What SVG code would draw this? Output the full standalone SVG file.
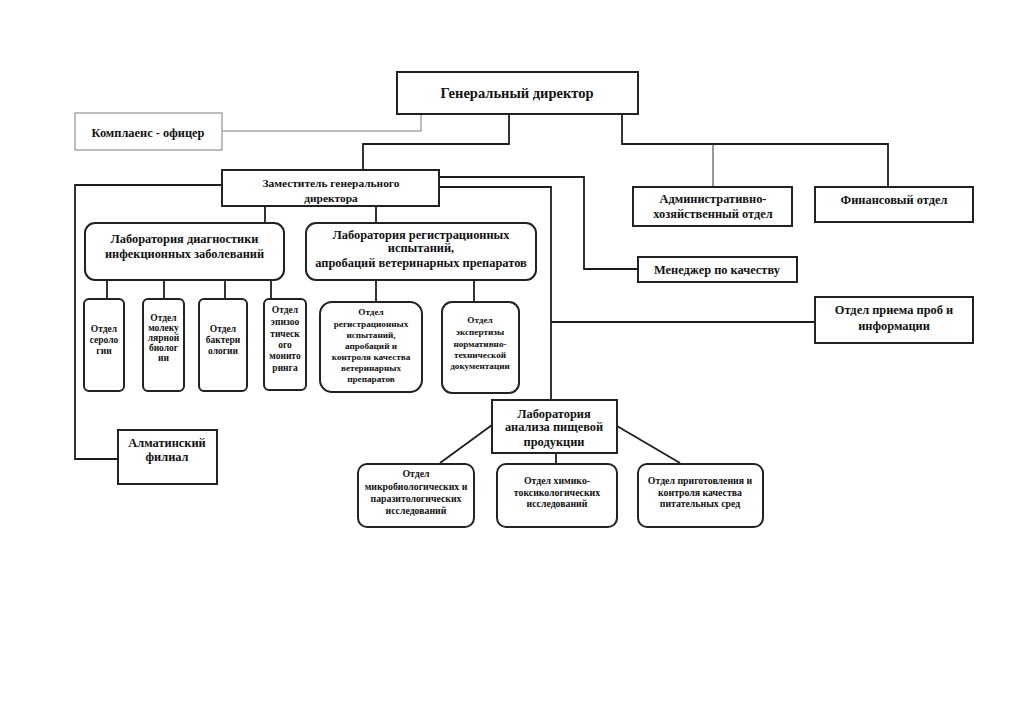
<svg xmlns="http://www.w3.org/2000/svg" width="1024" height="724" viewBox="0 0 1024 724">
<style>
  .box{fill:#fff;stroke:#222;stroke-width:2}
  .gbox{fill:#fff;stroke:#9a9a9a;stroke-width:1.3}
  .ln{fill:none;stroke:#1e1e1e;stroke-width:1.8}
  .thin{fill:none;stroke:#333;stroke-width:1}
  .gl{fill:none;stroke:#a8a8a8;stroke-width:1.5}
  text{font-family:"Liberation Serif","Times New Roman",serif;font-weight:bold;fill:#111;text-anchor:middle}
  .t14{font-size:14.5px}
  .t12{font-size:12.4px}
  .t11{font-size:11.4px}
  .t9{font-size:9.5px}
  .t8{font-size:9.2px}
  .t10{font-size:9.8px}
</style>
<rect width="1024" height="724" fill="#fff"/>
<g id="connectors">
  <path class="gl" d="M222,131 H421 V114"/>
  <path class="ln" d="M509,114 V144 H363 V170"/>
  <path class="ln" d="M622,114 V144 H888 V187"/>
  <path class="thin" d="M713,144 V187"/>
  <path class="ln" d="M222,185 H75 V459 H118"/>
  <path class="ln" d="M440,177 H584 V269 H638"/>
  <path class="ln" d="M440,187 H551 V400"/>
  <path class="ln" d="M551,322 H815"/>
  <path class="ln" d="M265,206 V223 M376,206 V223"/>
  <path class="ln" d="M107,280 V299 M164,280 V299 M225,280 V299 M271,280 V299"/>
  <path class="ln" d="M376,280 V302 M474,280 V302"/>
  <path class="ln" d="M556,453 V464"/>
  <path class="ln" d="M492,425 L440,463 M617,426 L680,463"/>
</g>
<g id="gen-director">
  <rect class="box" x="397" y="72" width="241" height="42"/>
  <text class="t14" x="517" y="98">Генеральный директор</text>
</g>
<g id="compliance">
  <rect class="gbox" x="75" y="113" width="147" height="37"/>
  <text class="t12" x="148" y="137">Комплаенс - офицер</text>
</g>
<g id="deputy">
  <rect class="box" x="222" y="170" width="217" height="36"/>
  <text class="t11" x="331" y="187">Заместитель генерального</text>
  <text class="t11" x="331" y="202">директора</text>
</g>
<g id="admin">
  <rect class="box" x="633" y="187" width="159" height="39"/>
  <text class="t12" x="713" y="203">Административно-</text>
  <text class="t12" x="713" y="218">хозяйственный отдел</text>
</g>
<g id="finance">
  <rect class="box" x="815" y="187" width="158" height="35"/>
  <text class="t12" x="894" y="204">Финансовый отдел</text>
</g>
<g id="quality-manager">
  <rect class="box" x="638" y="257" width="159" height="25"/>
  <text class="t12" x="717" y="274">Менеджер по качеству</text>
</g>
<g id="sample-dept">
  <rect class="box" x="815" y="297" width="158" height="46"/>
  <text class="t12" x="894" y="314">Отдел приема проб и</text>
  <text class="t12" x="894" y="330">информации</text>
</g>
<g id="lab-diag">
  <rect class="box" x="85" y="223" width="199" height="57" rx="10"/>
  <text class="t12" x="184.5" y="243">Лаборатория диагностики</text>
  <text class="t12" x="184.5" y="258">инфекционных заболеваний</text>
</g>
<g id="lab-reg">
  <rect class="box" x="306" y="223" width="230" height="57" rx="10"/>
  <text class="t12" x="421" y="239">Лаборатория регистрационных</text>
  <text class="t12" x="421" y="252">испытаний,</text>
  <text class="t12" x="421" y="267">апробаций ветеринарных препаратов</text>
</g>
<g id="dept-serology">
  <rect class="box" x="84" y="299" width="40" height="92" rx="5"/>
  <text class="t9" x="104" y="332">Отдел</text>
  <text class="t9" x="104" y="343">сероло</text>
  <text class="t9" x="104" y="354">гии</text>
</g>
<g id="dept-molecular">
  <rect class="box" x="143" y="299" width="41" height="92" rx="5"/>
  <text class="t9" x="163.5" y="321">Отдел</text>
  <text class="t9" x="163.5" y="331">молеку</text>
  <text class="t9" x="163.5" y="341">лярной</text>
  <text class="t9" x="163.5" y="351">биолог</text>
  <text class="t9" x="163.5" y="361">ии</text>
</g>
<g id="dept-bacteriology">
  <rect class="box" x="199" y="299" width="48" height="92" rx="5"/>
  <text class="t9" x="223" y="332">Отдел</text>
  <text class="t9" x="223" y="343">бактери</text>
  <text class="t9" x="223" y="354">ологии</text>
</g>
<g id="dept-epizootic">
  <rect class="box" x="264" y="299" width="42" height="91" rx="5"/>
  <text class="t9" x="285" y="313">Отдел</text>
  <text class="t9" x="285" y="325">эпизоо</text>
  <text class="t9" x="285" y="337">тическ</text>
  <text class="t9" x="285" y="348">ого</text>
  <text class="t9" x="285" y="359">монито</text>
  <text class="t9" x="285" y="371">ринга</text>
</g>
<g id="dept-registration">
  <rect class="box" x="320" y="302" width="102" height="90" rx="12"/>
  <text class="t8" x="371" y="315">Отдел</text>
  <text class="t8" x="371" y="327">регистрационных</text>
  <text class="t8" x="371" y="338">испытаний,</text>
  <text class="t8" x="371" y="349">апробаций и</text>
  <text class="t8" x="371" y="360">контроля качества</text>
  <text class="t8" x="371" y="371">ветеринарных</text>
  <text class="t8" x="371" y="382">препаратов</text>
</g>
<g id="dept-expertise">
  <rect class="box" x="442" y="302" width="77" height="91" rx="10"/>
  <text class="t8" x="480" y="323">Отдел</text>
  <text class="t8" x="480" y="335">экспертизы</text>
  <text class="t8" x="480" y="347">нормативно-</text>
  <text class="t8" x="480" y="358">технической</text>
  <text class="t8" x="480" y="369">документации</text>
</g>
<g id="lab-food">
  <rect class="box" x="492" y="400" width="125" height="53"/>
  <text class="t12" x="554" y="418">Лаборатория</text>
  <text class="t12" x="554" y="431">анализа пищевой</text>
  <text class="t12" x="554" y="446">продукции</text>
</g>
<g id="dept-micro">
  <rect class="box" x="358" y="464" width="116" height="63" rx="9"/>
  <text class="t10" x="416" y="477">Отдел</text>
  <text class="t10" x="416" y="490">микробиологических и</text>
  <text class="t10" x="416" y="502">паразитологических</text>
  <text class="t10" x="416" y="514">исследований</text>
</g>
<g id="dept-chem">
  <rect class="box" x="497" y="464" width="120" height="63" rx="9"/>
  <text class="t10" x="557" y="484">Отдел химико-</text>
  <text class="t10" x="557" y="496">токсикологических</text>
  <text class="t10" x="557" y="507">исследований</text>
</g>
<g id="dept-media">
  <rect class="box" x="638" y="464" width="125" height="63" rx="9"/>
  <text class="t10" x="700" y="484">Отдел приготовления и</text>
  <text class="t10" x="700" y="496">контроля качества</text>
  <text class="t10" x="700" y="507">питательных сред</text>
</g>
<g id="almaty">
  <rect class="box" x="118" y="430" width="99" height="54"/>
  <text class="t12" x="167" y="447">Алматинский</text>
  <text class="t12" x="167" y="461">филиал</text>
</g>
</svg>
